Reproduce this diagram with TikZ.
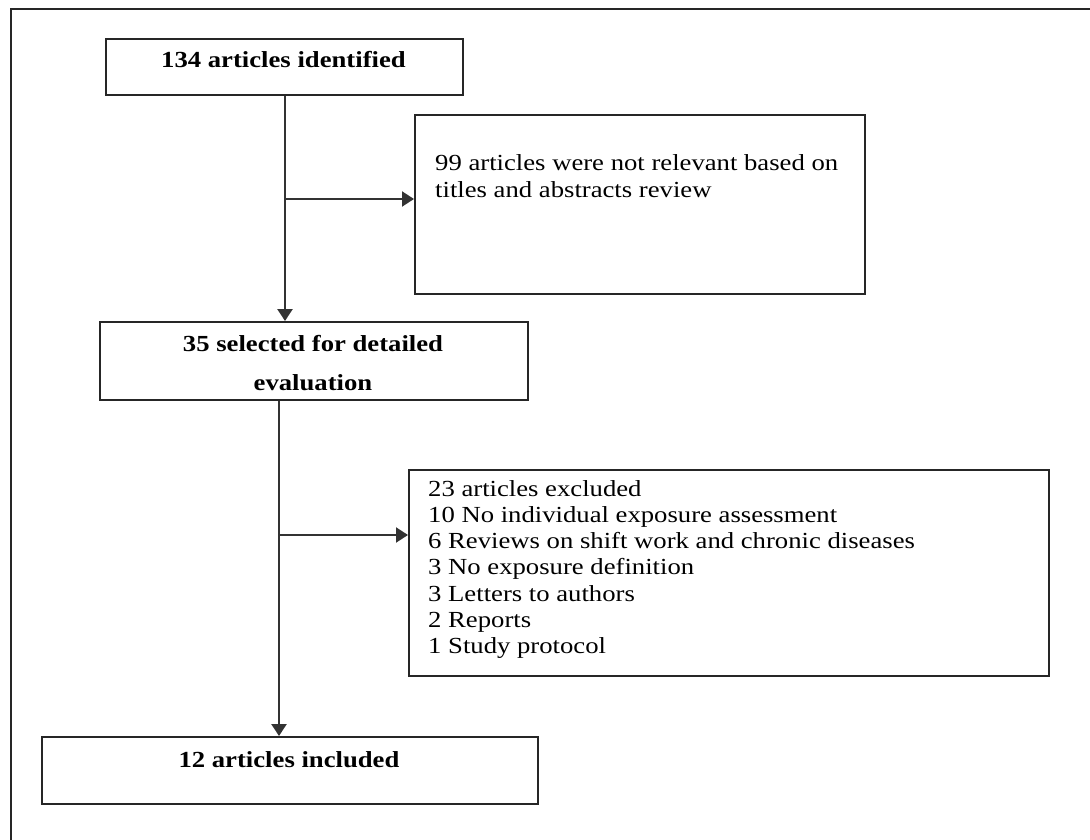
\documentclass[tikz,border=0pt]{standalone}
\usepackage{fontspec}
\setmainfont{Liberation Serif}[FakeStretch=1.16]
\usetikzlibrary{arrows.meta}
\begin{document}
\begin{tikzpicture}[x=1pt,y=-1pt,
  box/.style={draw=black!85, line width=2.2pt, inner sep=0pt, anchor=north west},
  txt/.style={inner sep=0pt, anchor=base west},
  btxt/.style={inner sep=0pt, anchor=base, font=\bfseries},
  link/.style={draw=black!80, line width=2.6pt},
  arr/.style={link, -{Triangle[length=12pt,width=15pt]}}]
\useasboundingbox (0,0) rectangle (1090,840);
\draw[line width=2.2pt, black!85] (11,845) -- (11,9) -- (1095,9);
% boxes
\node[box, minimum width=357pt, minimum height=56pt] (b1) at (105,38) {};
\node[box, minimum width=450pt, minimum height=179pt] (b99) at (414,114) {};
\node[box, minimum width=428pt, minimum height=78pt] (b2) at (99,321) {};
\node[box, minimum width=640pt, minimum height=206pt] (b3) at (408,469) {};
\node[box, minimum width=496pt, minimum height=67pt] (b4) at (41,736) {};
% texts
\node[btxt, font=\fontsize{23}{26}\selectfont\bfseries] (t1) at (283.5,68) {134 articles identified};
\node[txt, font=\fontsize{23}{27}\selectfont] (t99) at (435,171)
  {\begin{tabular}[t]{@{}l@{}}99 articles were not relevant based on\\titles and abstracts review\end{tabular}};
\node[btxt, font=\fontsize{23}{39}\selectfont\bfseries] (t2) at (313,351)
  {\begin{tabular}[t]{@{}c@{}}35 selected for detailed\\evaluation\end{tabular}};
\node[txt, font=\fontsize{23}{26.3}\selectfont] (t3) at (428,496)
  {\begin{tabular}[t]{@{}l@{}}23 articles excluded\\10 No individual exposure assessment\\6 Reviews on shift work and chronic diseases\\3 No exposure definition\\3 Letters to authors\\2 Reports\\1 Study protocol\end{tabular}};
\node[btxt, font=\fontsize{23}{26}\selectfont\bfseries] (t4) at (289,767) {12 articles included};
% connectors
\coordinate (s1) at (285,0);
\coordinate (j1) at (285,199);
\draw[arr] (b1.south -| s1) -- (b2.north -| s1);
\draw[arr, line width=2pt] (j1) -- (j1 -| b99.west);
\coordinate (s2) at (279,0);
\coordinate (j2) at (279,535);
\draw[arr] (b2.south -| s2) -- (b4.north -| s2);
\draw[arr, line width=2pt] (j2) -- (j2 -| b3.west);
\end{tikzpicture}
\end{document}
